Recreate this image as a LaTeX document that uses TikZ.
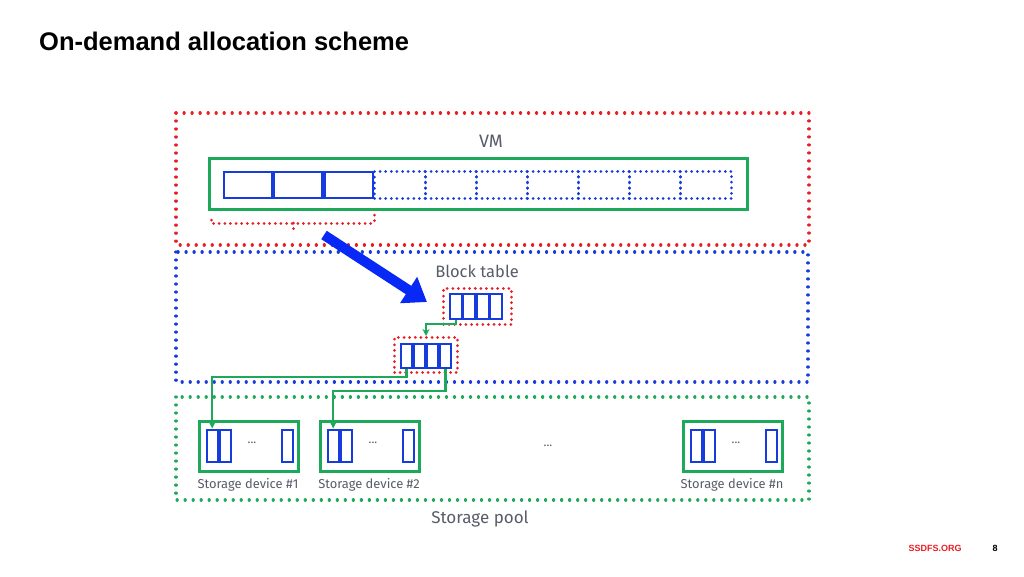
\documentclass[tikz,border=0pt]{standalone}
\usepackage{fontspec}
\setmainfont{Fira Sans}
\newfontfamily\titlefont{Liberation Sans}
\usetikzlibrary{arrows.meta}
\definecolor{cred}{RGB}{232,30,36}
\definecolor{cgreen}{RGB}{30,168,90}
\definecolor{cblue}{RGB}{22,60,222}
\definecolor{carrow}{RGB}{8,40,245}
\definecolor{ctext}{RGB}{88,92,104}
\tikzset{
  bigdot/.style={line width=3.3pt, line cap=round, dash pattern=on 0.01pt off 8pt},
  smalldot/.style={line width=3pt, line cap=round, dash pattern=on 0.01pt off 5.6pt},
  cell/.style={draw=cblue, line width=2.4pt, inner sep=0pt, anchor=north west},
  dcell/.style={draw=cblue, smalldot, inner sep=0pt, anchor=north west},
  gbox/.style={draw=cgreen, line width=3pt, inner sep=0pt, anchor=north west},
  lbl/.style={text=ctext, inner sep=0pt},
  conn/.style={draw=cgreen, line width=2.2pt, -{Stealth[length=7pt,width=7pt]}},
}
\begin{document}
\begin{tikzpicture}[x=1pt,y=-1pt]
\useasboundingbox (0,0) rectangle (1024,576);
% title
\node[anchor=base west, inner sep=0pt, font=\titlefont\bfseries\fontsize{25.5}{30}\selectfont] (title) at (39,50) {On-demand allocation scheme};
\node[anchor=base, inner sep=0pt, text=cred, font=\titlefont\bfseries\fontsize{9}{11}\selectfont] (org) at (935,551) {SSDFS.ORG};
\node[anchor=base, inner sep=0pt, font=\titlefont\bfseries\fontsize{9}{11}\selectfont] (page) at (995,551) {8};
% outer regions
\draw[cred, bigdot] (176,113) rectangle (809,245);
\draw[cblue, bigdot] (176,252) rectangle (808,382);
\draw[cgreen, bigdot] (176,397) rectangle (809,500);
\node[lbl, font=\fontsize{18}{21}\selectfont] (vmlbl) at (491,141) {VM};
\node[lbl, font=\fontsize{16.5}{20}\selectfont] (btlbl) at (477,271) {Block table};
\node[lbl, font=\fontsize{17}{20}\selectfont] (splbl) at (480,519) {Storage pool};
% VM
\node[gbox, minimum width=538pt, minimum height=51pt] (vm) at (208,157) {};
\foreach \i in {0,1,2} {
  \node[cell, minimum width=48.5pt, minimum height=26pt] (v\i) at ({222.5+50.3*\i},170.5) {};
}
\foreach \i in {0,...,6} {
  \node[dcell, minimum width=51pt, minimum height=27pt] (d\i) at ({373+51*\i},170) {};
}
\draw[cred, smalldot] (211,220) -- (211,223) -- (374,223) -- (374,213);
\draw[cred, smalldot] (293,223) -- (293,230);
% blue arrow
\coordinate (astart) at (324,235);
\coordinate (aend) at (427,302);
\draw[carrow, line width=10pt, -{Triangle[length=22pt,width=30pt]}] (astart) -- (aend);
% block tables
\node[draw=cred, smalldot, inner sep=0pt, anchor=north west, minimum width=68pt, minimum height=36pt] (tbox) at (442,287) {};
\foreach \i in {1,...,4} {
  \node[cell, minimum width=12pt, minimum height=25pt] (t\i) at ({448.5+13.5*(\i-1)},292.5) {};
}
\node[draw=cred, smalldot, inner sep=0pt, anchor=north west, minimum width=63pt, minimum height=35pt] (bbox) at (393,336) {};
\foreach \i in {1,...,4} {
  \node[cell, minimum width=11.5pt, minimum height=24pt] (b\i) at ({399.5+13*(\i-1)},342.5) {};
}
% storage devices
\foreach \n/\x/\t in {1/198/Storage device \#1, 2/319/Storage device \#2, 3/682/Storage device \#n} {
  \node[gbox, minimum width=99pt, minimum height=50pt] (dev\n) at (\x,420) {};
  \node[cell, minimum width=11pt, minimum height=32pt] (s\n a) at (\x+7.5,428.5) {};
  \node[cell, minimum width=11pt, minimum height=32pt] (s\n b) at (\x+20.5,428.5) {};
  \node[cell, minimum width=11pt, minimum height=32pt] (s\n c) at (\x+82.5,428.5) {};
  \node[lbl, font=\fontsize{12}{14}\selectfont] (dots\n) at (\x+54,443) {...};
  \node[lbl, font=\fontsize{12.9}{15}\selectfont] (dl\n) at (\x+50,485) {\t};
}
\node[lbl, font=\fontsize{12}{14}\selectfont] (middots) at (548,446) {...};
% connectors
\draw[conn] (t1.south) -- ++(0,4) -| (bbox.north);
\draw[conn] (b1.south) -- ++(0,8) -| (s1a.north);
\draw[conn] (b4.south) -- ++(0,22) -| (s2a.north);
\end{tikzpicture}
\end{document}
